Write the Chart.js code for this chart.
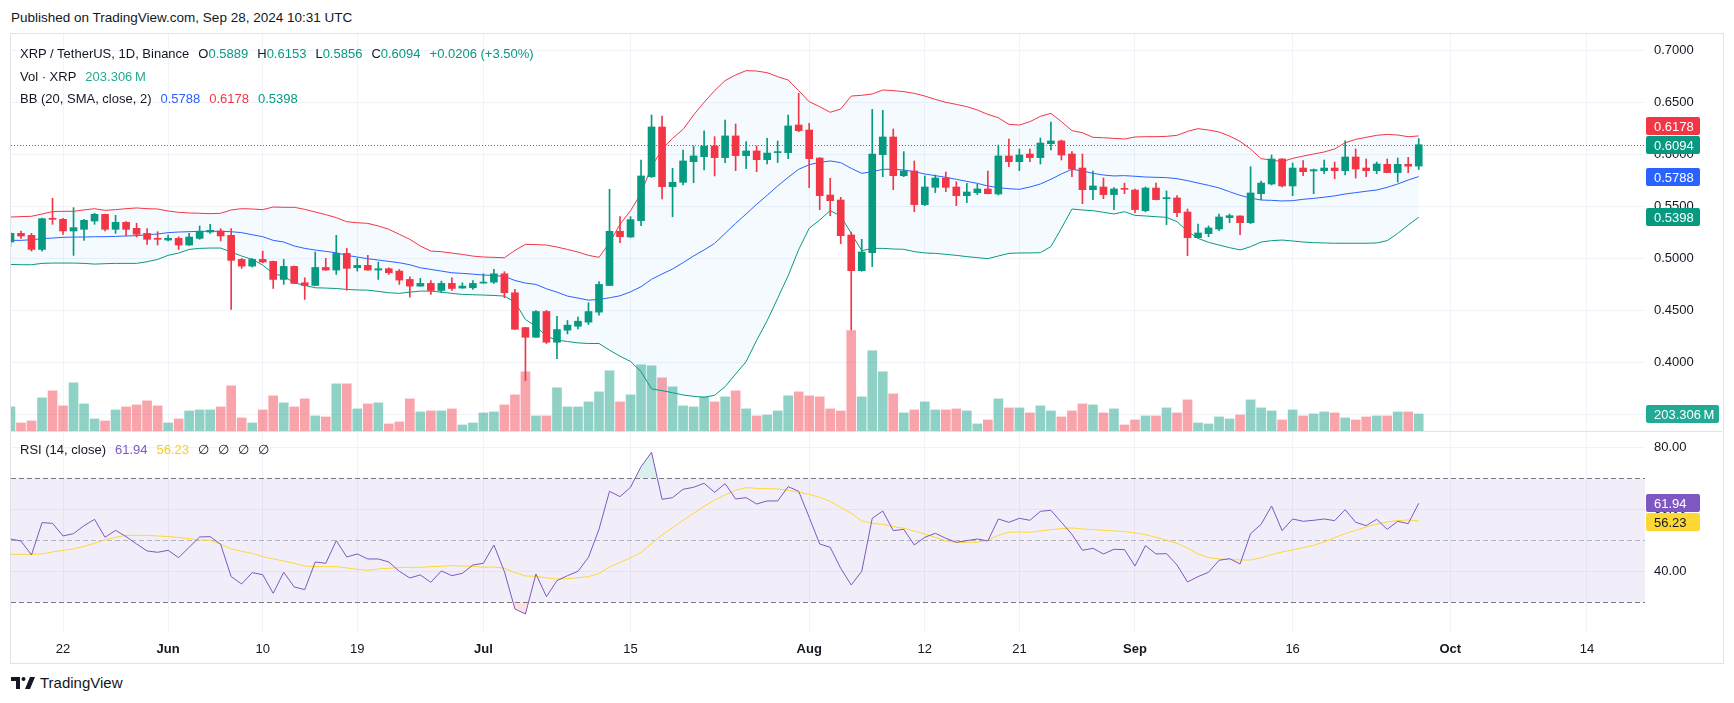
<!DOCTYPE html>
<html lang="en">
<head>
<meta charset="utf-8" />
<meta name="viewport" content="width=device-width,initial-scale=1"/>
<title>XRP / TetherUS, 1D, Binance</title>
<style>
html, body { margin: 0; padding: 0; background: #fff; }
body { position: relative; width: 1734px; height: 703px; overflow: hidden;
  font-family: 'Liberation Sans', Arial, sans-serif; color: #131722; }
#published { position: absolute; left: 11px; top: 10px; font-size: 13.5px; line-height: 16px; }
#frame { position: absolute; left: 10px; top: 33px; width: 1712px; height: 629px; border: 1px solid #e0e3eb; }
#chartBox { position: absolute; left: 11px; top: 34px; width: 1711px; height: 628px; }
.legend { position: absolute; left: 20px; font-size: 13px; line-height: 16px; white-space: nowrap; }
.legend .gap { margin-left: 9px; }
#footer { position: absolute; left: 11px; top: 674px; font-size: 15px; line-height: 18px; display: flex; align-items: center; }
#footer svg { margin-right: 5px; }
</style>
</head>
<body>
  <div id="published">Published on TradingView.com, Sep 28, 2024 10:31 UTC</div>
  <div id="frame"></div>
  <div id="chartBox"><canvas id="myChart" width="1711" height="628"></canvas></div>

  <div class="legend" style="top:46px">XRP / TetherUS, 1D, Binance<span class="gap">O<span class="val" id="lgO"></span></span><span class="gap">H<span class="val" id="lgH"></span></span><span class="gap">L<span class="val" id="lgL"></span></span><span class="gap">C<span class="val" id="lgC"></span></span><span class="gap val" id="lgChg"></span></div>
  <div class="legend" style="top:69px">Vol · XRP<span class="gap" id="lgVol" style="color:#22ab94"></span></div>
  <div class="legend" style="top:91px">BB (20, SMA, close, 2)<span class="gap" id="lgBasis" style="color:#2962ff"></span><span class="gap" id="lgUpper" style="color:#f23645"></span><span class="gap" id="lgLower" style="color:#089981"></span></div>
  <div class="legend" style="top:442px">RSI (14, close)<span class="gap" id="lgRsi" style="color:#7e57c2"></span><span class="gap" id="lgRsiMa" style="color:#f5cf1d"></span><span class="gap">∅</span><span class="gap">∅</span><span class="gap">∅</span><span class="gap">∅</span></div>

  <div id="footer">
    <svg width="24" height="14" viewBox="0 0 24 14"><rect x="0" y="1" width="9" height="4" fill="#131722"/><rect x="5" y="1" width="4" height="12" fill="#131722"/><circle cx="12.5" cy="3" r="2" fill="#131722"/><polygon points="14,13 19,1 24,1 19,13" fill="#131722"/></svg>
    <span>TradingView</span>
  </div>

  <script src="https://cdn.jsdelivr.net/npm/chart.js"></script>
  <script>
// daily candles, XRP/USDT (Binance)
const dates = [
  '2024-05-17','2024-05-18','2024-05-19','2024-05-20','2024-05-21','2024-05-22','2024-05-23','2024-05-24','2024-05-25','2024-05-26','2024-05-27','2024-05-28','2024-05-29','2024-05-30','2024-05-31',
  '2024-06-01','2024-06-02','2024-06-03','2024-06-04','2024-06-05','2024-06-06','2024-06-07','2024-06-08','2024-06-09','2024-06-10','2024-06-11','2024-06-12','2024-06-13','2024-06-14','2024-06-15',
  '2024-06-16','2024-06-17','2024-06-18','2024-06-19','2024-06-20','2024-06-21','2024-06-22','2024-06-23','2024-06-24','2024-06-25','2024-06-26','2024-06-27','2024-06-28','2024-06-29','2024-06-30',
  '2024-07-01','2024-07-02','2024-07-03','2024-07-04','2024-07-05','2024-07-06','2024-07-07','2024-07-08','2024-07-09','2024-07-10','2024-07-11','2024-07-12','2024-07-13','2024-07-14','2024-07-15',
  '2024-07-16','2024-07-17','2024-07-18','2024-07-19','2024-07-20','2024-07-21','2024-07-22','2024-07-23','2024-07-24','2024-07-25','2024-07-26','2024-07-27','2024-07-28','2024-07-29','2024-07-30','2024-07-31',
  '2024-08-01','2024-08-02','2024-08-03','2024-08-04','2024-08-05','2024-08-06','2024-08-07','2024-08-08','2024-08-09','2024-08-10','2024-08-11','2024-08-12','2024-08-13','2024-08-14','2024-08-15',
  '2024-08-16','2024-08-17','2024-08-18','2024-08-19','2024-08-20','2024-08-21','2024-08-22','2024-08-23','2024-08-24','2024-08-25','2024-08-26','2024-08-27','2024-08-28','2024-08-29','2024-08-30','2024-08-31',
  '2024-09-01','2024-09-02','2024-09-03','2024-09-04','2024-09-05','2024-09-06','2024-09-07','2024-09-08','2024-09-09','2024-09-10','2024-09-11','2024-09-12','2024-09-13','2024-09-14','2024-09-15',
  '2024-09-16','2024-09-17','2024-09-18','2024-09-19','2024-09-20','2024-09-21','2024-09-22','2024-09-23','2024-09-24','2024-09-25','2024-09-26','2024-09-27','2024-09-28'
];
const opens = [
  .5160,.5243,.5224,.5089,.5388,.5378,.5266,.5282,.5362,.5426,.5282,.5349,.5291,.5243,.5195,
  .5179,.5195,.5131,.5195,.5256,.5266,.5224,.4993,.4929,.4993,.4974,.4801,.4926,.4769,.4743,.4916,.4891,.5051,.4913,.4936,.4891,.4904,.4881,.4801,.4737,.4763,.4695,.4763,.4718,.4721,
  .4766,.4775,.4855,.4673,.4339,.4246,.4493,.4198,.4314,.4352,.4391,.4487,.4743,.5263,.5208,.5365,.5787,.6264,.5691,.5733,.5931,.5979,.6082,.5970,.6178,.5989,.6034,.5950,.6018,.6018,.6283,
  .6235,.5966,.5611,.5563,.5227,.4885,.5058,.5998,.6168,.5797,.5842,.5519,.5685,.5774,.5688,.5605,.5634,.5669,.5621,.5986,.5931,.6005,.5970,.6104,.6130,.6005,.5870,.5662,.5688,.5615,.5672,
  .5659,.5461,.5678,.5576,.5583,.5448,.5202,.5240,.5285,.5394,.5410,.5346,.5624,.5717,.5957,.5698,.5870,.5842,.5845,.5870,.5845,.5976,.5870,.5845,.5906,.5826,.5906,.5889
];
const highs = [
  .5255,.5266,.5243,.5390,.5580,.5388,.5490,.5378,.5436,.5428,.5416,.5355,.5340,.5288,.5259,
  .5227,.5211,.5243,.5314,.5330,.5288,.5288,.5003,.5003,.5073,.4977,.4993,.4930,.4817,.5064,.5003,.5224,.5099,.5003,.5032,.4968,.4913,.4897,.4827,.4811,.4791,.4785,.4817,.4769,.4791,
  .4855,.4897,.4875,.4705,.4342,.4503,.4503,.4448,.4407,.4439,.4577,.4781,.5666,.5404,.5404,.5947,.6379,.6369,.5867,.6043,.6082,.6226,.6171,.6331,.6293,.6123,.6082,.6155,.6130,.6379,.6587,
  .6299,.5970,.5771,.5589,.5256,.5186,.6433,.6424,.6245,.6027,.5938,.5794,.5803,.5832,.5739,.5723,.5714,.5842,.6091,.6149,.6053,.6053,.6158,.6312,.6139,.6027,.6005,.5842,.5774,.5682,.5726,
  .5669,.5688,.5726,.5650,.5605,.5477,.5333,.5314,.5429,.5429,.5412,.5883,.5746,.5995,.5960,.5918,.5941,.5861,.5947,.5928,.6130,.6053,.5957,.5928,.5957,.5966,.5973,.6153
];
const lows = [
  .5120,.5195,.5073,.5073,.5330,.5234,.5032,.5176,.5330,.5266,.5243,.5218,.5208,.5138,.5131,
  .5170,.5089,.5128,.5186,.5243,.5170,.4513,.4907,.4920,.4961,.4714,.4753,.4760,.4609,.4740,.4888,.4849,.4698,.4881,.4888,.4801,.4849,.4753,.4631,.4735,.4657,.4673,.4695,.4716,.4705,
  .4764,.4763,.4625,.4320,.3830,.4244,.4186,.4041,.4278,.4327,.4368,.4458,.4741,.5154,.5205,.5317,.5780,.5573,.5403,.5707,.5730,.5851,.5794,.5922,.5845,.5864,.5835,.5909,.5922,.5960,.6219,
  .5682,.5471,.5413,.5144,.4316,.4880,.4924,.5787,.5662,.5787,.5451,.5509,.5634,.5643,.5509,.5538,.5615,.5621,.5611,.5883,.5845,.5931,.5909,.6043,.5947,.5787,.5528,.5567,.5576,.5471,.5624,
  .5442,.5451,.5565,.5327,.5403,.5029,.5200,.5211,.5269,.5346,.5231,.5336,.5567,.5707,.5688,.5605,.5797,.5624,.5816,.5768,.5803,.5774,.5787,.5816,.5826,.5736,.5826,.5856
];
const closes = [
  .5243,.5218,.5089,.5384,.5378,.5266,.5298,.5368,.5426,.5282,.5349,.5282,.5234,.5186,.5186,
  .5195,.5131,.5208,.5263,.5272,.5218,.4984,.4929,.4993,.4968,.4801,.4926,.4763,.4743,.4916,.4891,.5051,.4907,.4936,.4891,.4904,.4865,.4795,.4737,.4763,.4695,.4763,.4714,.4737,.4763,
  .4775,.4855,.4673,.4323,.4246,.4493,.4198,.4320,.4362,.4400,.4493,.4753,.5263,.5211,.5375,.5794,.6264,.5691,.5733,.5938,.5986,.6082,.5970,.6178,.5989,.6034,.5950,.6014,.6027,.6274,.6229,
  .5960,.5605,.5557,.5221,.4885,.5064,.6005,.6168,.5797,.5842,.5519,.5688,.5774,.5685,.5605,.5640,.5669,.5624,.5986,.5931,.5995,.5970,.6110,.6130,.5995,.5861,.5662,.5698,.5615,.5669,.5666,
  .5471,.5678,.5567,.5586,.5442,.5202,.5247,.5295,.5400,.5413,.5346,.5631,.5726,.5957,.5698,.5870,.5835,.5854,.5870,.5845,.5976,.5861,.5845,.5909,.5826,.5906,.5888,.6094
];
// volume, millions of XRP
const volumes = [
  288,96,120,396,480,300,576,324,144,120,252,288,312,360,300,
  96,144,240,252,252,288,540,156,96,252,420,336,288,384,180,168,564,564,264,324,336,84,108,384,228,240,240,264,72,96,
  216,228,312,432,708,180,180,516,288,288,348,468,720,348,432,792,780,636,528,300,288,408,348,408,480,264,180,192,240,420,468,
  420,408,264,240,1200,408,960,708,444,216,252,348,252,252,264,240,84,132,384,276,276,216,300,240,168,240,324,312,216,264,72,
  132,180,180,276,216,372,96,84,168,144,192,372,276,240,132,252,180,204,228,216,156,132,168,180,180,228,228,203.306
];
// Bollinger Bands (20, SMA, close, 2)
const bbUpper = [
  .5400,.5404,.5407,.5429,.5452,.5455,.5455,.5468,.5480,.5464,.5471,.5480,.5487,.5480,.5477,
  .5458,.5445,.5439,.5436,.5432,.5436,.5468,.5480,.5477,.5471,.5496,.5493,.5493,.5474,.5448,.5423,.5394,.5355,.5345,.5339,.5314,.5282,.5234,.5186,.5122,.5073,.5067,.5054,.5041,.5025,
  .5016,.5013,.5009,.5080,.5138,.5135,.5131,.5112,.5089,.5064,.5032,.5013,.5154,.5330,.5460,.5627,.5883,.6050,.6155,.6241,.6379,.6501,.6613,.6709,.6763,.6805,.6801,.6785,.6747,.6715,.6613,
  .6507,.6459,.6405,.6437,.6561,.6568,.6581,.6619,.6613,.6603,.6587,.6561,.6529,.6501,.6481,.6459,.6427,.6385,.6353,.6289,.6283,.6315,.6366,.6395,.6315,.6229,.6209,.6165,.6161,.6155,.6149,
  .6168,.6171,.6171,.6174,.6184,.6222,.6248,.6235,.6216,.6177,.6126,.6053,.5960,.5947,.5931,.5963,.5985,.6005,.6024,.6053,.6113,.6145,.6165,.6184,.6193,.6187,.6171,.6178
];
const bbBasis = [
  .5176,.5176,.5182,.5192,.5198,.5205,.5208,.5208,.5211,.5211,.5214,.5218,.5221,.5230,.5237,
  .5250,.5256,.5259,.5263,.5263,.5263,.5259,.5250,.5230,.5211,.5176,.5160,.5122,.5099,.5083,.5070,.5057,.5032,.5016,.5000,.4987,.4974,.4961,.4942,.4913,.4897,.4881,.4865,.4859,.4852,
  .4843,.4839,.4830,.4791,.4766,.4753,.4711,.4679,.4641,.4622,.4602,.4609,.4625,.4644,.4682,.4731,.4802,.4853,.4901,.4962,.5026,.5084,.5147,.5243,.5339,.5429,.5522,.5608,.5698,.5781,.5858,
  .5902,.5925,.5938,.5922,.5867,.5819,.5835,.5858,.5858,.5851,.5835,.5813,.5797,.5781,.5762,.5742,.5723,.5698,.5682,.5672,.5666,.5688,.5717,.5762,.5813,.5858,.5842,.5819,.5803,.5794,.5797,
  .5791,.5784,.5781,.5778,.5768,.5749,.5726,.5704,.5679,.5643,.5608,.5582,.5563,.5560,.5554,.5557,.5570,.5579,.5590,.5603,.5621,.5634,.5647,.5659,.5685,.5717,.5755,.5788
];
const bbLower = [
  .4945,.4942,.4942,.4955,.4958,.4958,.4958,.4955,.4948,.4952,.4955,.4955,.4955,.4971,.4993,
  .5032,.5054,.5089,.5099,.5102,.5102,.5064,.5025,.4993,.4939,.4855,.4833,.4769,.4743,.4721,.4718,.4714,.4705,.4700,.4698,.4686,.4673,.4667,.4679,.4689,.4689,.4679,.4667,.4657,.4654,
  .4651,.4647,.4641,.4583,.4416,.4352,.4256,.4218,.4205,.4192,.4186,.4186,.4122,.4064,.4014,.3916,.3750,.3734,.3714,.3692,.3679,.3670,.3689,.3772,.3893,.4012,.4217,.4405,.4620,.4837,.5087,
  .5292,.5371,.5461,.5410,.5243,.5077,.5099,.5099,.5093,.5090,.5068,.5055,.5051,.5042,.5032,.5020,.5010,.5000,.5026,.5051,.5055,.5055,.5058,.5116,.5291,.5477,.5467,.5461,.5445,.5429,.5451,
  .5416,.5410,.5403,.5397,.5355,.5263,.5195,.5157,.5131,.5106,.5084,.5115,.5160,.5173,.5179,.5170,.5160,.5154,.5151,.5148,.5148,.5148,.5148,.5151,.5173,.5243,.5323,.5398
];
// RSI (14, close) and its moving average
const rsiValues = [
  50.43,49.78,45.27,55.70,55.48,51.40,52.15,54.73,56.77,50.97,53.23,51.18,48.82,46.56,46.13,
  46.77,44.41,47.74,51.08,51.18,48.71,38.28,35.91,39.57,38.92,32.90,39.68,34.95,34.09,43.01,42.58,49.89,44.62,45.59,43.98,43.98,43.01,40.00,37.85,38.82,36.45,40.11,38.60,39.35,42.04,
  42.58,48.49,39.89,27.85,26.24,39.14,31.83,36.99,38.60,40.00,44.52,53.55,65.81,64.09,67.10,73.76,78.39,63.23,63.76,66.45,67.10,68.39,65.48,68.28,63.33,63.76,61.72,62.69,62.69,67.31,65.81,
  57.42,48.82,47.74,40.97,35.59,40.00,57.10,59.46,53.12,53.55,48.49,50.97,52.26,50.65,49.35,49.89,50.43,49.78,56.88,55.81,57.10,56.45,59.35,59.68,55.81,51.94,46.77,47.42,45.59,47.10,46.99,
  41.72,48.28,45.59,45.70,42.04,36.56,38.28,39.68,43.55,44.09,42.37,52.15,55.16,61.08,53.12,56.88,56.13,56.45,56.88,56.34,59.89,55.81,54.73,56.77,53.55,56.13,55.38,61.94
];
const rsiMa = [
  45.48,45.48,45.48,45.59,46.24,46.77,47.20,48.06,49.03,50.11,50.97,51.61,51.61,51.61,51.40,
  51.18,50.97,50.54,50.11,50.00,48.71,47.20,46.45,45.81,44.73,43.98,43.33,42.58,41.72,41.51,41.51,41.51,41.08,40.65,40.32,40.75,40.97,41.18,41.29,41.29,41.51,41.61,41.83,41.72,41.61,
  41.29,41.40,40.97,39.57,38.49,38.39,37.85,37.53,37.63,37.96,38.28,39.25,41.40,42.90,44.30,46.13,48.92,51.72,54.09,56.45,58.71,60.97,63.01,64.62,66.13,66.99,66.77,66.67,66.56,66.13,65.48,
  64.84,63.87,62.58,60.65,58.71,56.24,55.48,55.16,54.41,53.87,53.01,52.04,50.97,49.78,49.35,49.35,49.35,50.11,51.61,52.58,52.69,52.58,53.01,53.44,53.76,53.98,53.66,53.44,53.23,53.01,52.80,
  52.37,51.83,50.97,50.00,49.03,47.53,45.59,44.41,43.98,43.76,43.66,43.66,44.41,45.38,46.24,46.88,47.63,48.39,49.46,50.86,52.15,53.23,54.30,55.16,55.91,56.34,56.56,56.23
];
// axes
const timeTickDates = ['2024-05-22','2024-06-01','2024-06-10','2024-06-19','2024-07-01','2024-07-15','2024-08-01','2024-08-12','2024-08-21','2024-09-01','2024-09-16','2024-10-01','2024-10-14'];
const timeTickLabels = ['22','Jun','10','19','Jul','15','Aug','12','21','Sep','16','Oct','14'];
const monthLabels = ['Jun','Jul','Aug','Sep','Oct'];
const priceTicks = [0.35, 0.40, 0.45, 0.50, 0.55, 0.60, 0.65, 0.70];
const rsiTicks = [40, 60, 80];
const rsiLevels = [70, 50, 30];

const UP = '#089981', DOWN = '#f23645';
const FONT = "'Liberation Sans', Arial, sans-serif";
const GRID = '#f0f3fa';
const TEXT = '#131722';

// x axis counts days from Jun 1
const dayZero = Date.parse('2024-06-01');
const dayOf = s => (Date.parse(s) - dayZero) / 864e5;
const xs = dates.map(dayOf);
const isUp = i => closes[i] >= opens[i];
const pts = arr => arr.map((v, i) => ({x: xs[i], y: v}));
const last = arr => arr[arr.length - 1];

// legend texts
(function fillLegend() {
  const n = closes.length;
  const chg = closes[n - 1] - closes[n - 2];
  const pct = chg / closes[n - 2] * 100;
  document.getElementById('lgO').textContent = last(opens).toFixed(4);
  document.getElementById('lgH').textContent = last(highs).toFixed(4);
  document.getElementById('lgL').textContent = last(lows).toFixed(4);
  document.getElementById('lgC').textContent = last(closes).toFixed(4);
  document.getElementById('lgChg').textContent = (chg >= 0 ? '+' : '') + chg.toFixed(4) + ' (' + (pct >= 0 ? '+' : '') + pct.toFixed(2) + '%)';
  document.getElementById('lgVol').textContent = last(volumes).toFixed(3) + '\u2009M';
  document.getElementById('lgBasis').textContent = last(bbBasis).toFixed(4);
  document.getElementById('lgUpper').textContent = last(bbUpper).toFixed(4);
  document.getElementById('lgLower').textContent = last(bbLower).toFixed(4);
  document.getElementById('lgRsi').textContent = last(rsiValues).toFixed(2);
  document.getElementById('lgRsiMa').textContent = last(rsiMa).toFixed(2);
  document.querySelectorAll('.val').forEach(e => e.style.color = UP);
})();

function drawTag(ctx, x, y, w, text, bg, fg) {
  y = Math.round(y);
  ctx.fillStyle = bg;
  ctx.beginPath();
  ctx.roundRect(x, y - 9, w, 18, 2);
  ctx.fill();
  ctx.fillStyle = fg;
  ctx.font = '13px ' + FONT;
  ctx.textAlign = 'left';
  ctx.textBaseline = 'middle';
  ctx.fillText(text, x + 8, y + 1);
}
// keep tags from overlapping the fixed one (last price / last rsi)
function spreadTags(tags, fixed) {
  const f = tags[fixed];
  tags.forEach((t, i) => {
    if (i === fixed) return;
    const d = t.y - f.y;
    if (Math.abs(d) < 19) t.y = f.y + (d < 0 ? -19 : 19);
  });
}
// no auto padding around the plot: labels stay inside their own columns
function noPad(s) {
  s.paddingTop = 0; s.paddingBottom = 0; s.paddingLeft = 0; s.paddingRight = 0;
}

const overlays = {
  id: 'overlays',
  beforeDatasetsDraw(chart) {
    const {ctx, chartArea: a, scales} = chart;
    const r = scales.yRsi, p = scales.y;
    ctx.save();
    const y70 = r.getPixelForValue(rsiLevels[0]), y30 = r.getPixelForValue(rsiLevels[2]);
    ctx.fillStyle = 'rgba(126,87,194,0.1)';
    ctx.fillRect(a.left, y70, a.width, y30 - y70);
    ctx.lineWidth = 1;
    ctx.setLineDash([5, 3]);
    rsiLevels.forEach(v => {
      const y = Math.round(r.getPixelForValue(v)) + 0.5;
      ctx.strokeStyle = v === 50 ? 'rgba(120,123,134,0.5)' : '#787b86';
      ctx.beginPath(); ctx.moveTo(a.left, y); ctx.lineTo(a.right, y); ctx.stroke();
    });
    // last price line
    ctx.setLineDash([1, 2]);
    ctx.strokeStyle = UP;
    const yl = Math.round(p.getPixelForValue(last(closes))) + 0.5;
    ctx.beginPath(); ctx.moveTo(a.left, yl); ctx.lineTo(a.right, yl); ctx.stroke();
    ctx.restore();
  },
  afterDatasetsDraw(chart) {
    const {ctx, scales} = chart;
    ctx.save();
    ctx.strokeStyle = '#e0e3eb';
    ctx.lineWidth = 1;
    const ys = Math.round(scales.y.bottom) + 0.5;
    ctx.beginPath(); ctx.moveTo(0, ys); ctx.lineTo(chart.width, ys); ctx.stroke();
    ctx.restore();
  },
  afterDraw(chart) {
    const {ctx, chartArea: a, scales} = chart;
    const x = a.right + 1;
    ctx.save();
    const priceTags = [
      {v: last(bbUpper), bg: DOWN},
      {v: last(closes), bg: UP},
      {v: last(bbBasis), bg: '#2962ff'},
      {v: last(bbLower), bg: UP}
    ].map(t => ({...t, y: scales.y.getPixelForValue(t.v)}));
    spreadTags(priceTags, 1);
    priceTags.forEach(t => drawTag(ctx, x, t.y, 54, t.v.toFixed(4), t.bg, '#fff'));
    drawTag(ctx, x, scales.yVol.getPixelForValue(last(volumes)), 73, last(volumes).toFixed(3) + '\u2009M', '#22ab94', '#fff');
    const rsiTags = [
      {v: last(rsiValues), bg: '#7e57c2', fg: '#fff'},
      {v: last(rsiMa), bg: '#fdd835', fg: TEXT}
    ].map(t => ({...t, y: scales.yRsi.getPixelForValue(t.v)}));
    spreadTags(rsiTags, 0);
    rsiTags.forEach(t => drawTag(ctx, x, t.y, 54, t.v.toFixed(2), t.bg, t.fg));
    ctx.restore();
  }
};

const candleColor = ctx => isUp(ctx.dataIndex) ? UP : DOWN;
const datasets = [
  { type: 'bar', label: 'Volume', yAxisID: 'yVol', order: 30, grouped: false, barThickness: 9,
    data: volumes.map((v, i) => ({x: xs[i], y: v})),
    backgroundColor: ctx => isUp(ctx.dataIndex) ? 'rgba(8,153,129,0.45)' : 'rgba(242,54,69,0.45)' },
  { type: 'line', label: 'BB upper', yAxisID: 'y', order: 20, data: pts(bbUpper),
    borderColor: DOWN, borderWidth: 1, pointRadius: 0, tension: 0,
    fill: '+2', backgroundColor: 'rgba(33,150,243,0.05)' },
  { type: 'line', label: 'BB basis', yAxisID: 'y', order: 19, data: pts(bbBasis),
    borderColor: '#2962ff', borderWidth: 1, pointRadius: 0, tension: 0, fill: false },
  { type: 'line', label: 'BB lower', yAxisID: 'y', order: 19, data: pts(bbLower),
    borderColor: UP, borderWidth: 1, pointRadius: 0, tension: 0, fill: false },
  { type: 'bar', label: 'Wick', yAxisID: 'y', order: 2, grouped: false, barThickness: 1,
    data: lows.map((l, i) => ({x: xs[i], y: [l, highs[i]]})), backgroundColor: candleColor },
  { type: 'bar', label: 'Body', yAxisID: 'y', order: 1, grouped: false, barThickness: 7, minBarLength: 1,
    data: opens.map((o, i) => ({x: xs[i], y: [o, closes[i]]})), backgroundColor: candleColor },
  { type: 'line', label: 'RSI over', yAxisID: 'yRsi', order: 8, data: pts(rsiValues),
    borderColor: 'rgba(0,0,0,0)', borderWidth: 0, pointRadius: 0,
    fill: { target: { value: 70 }, above: 'rgba(8,153,129,0.15)', below: 'rgba(0,0,0,0)' } },
  { type: 'line', label: 'RSI under', yAxisID: 'yRsi', order: 8, data: pts(rsiValues),
    borderColor: 'rgba(0,0,0,0)', borderWidth: 0, pointRadius: 0,
    fill: { target: { value: 30 }, above: 'rgba(0,0,0,0)', below: 'rgba(242,54,69,0.15)' } },
  { type: 'line', label: 'RSI MA', yAxisID: 'yRsi', order: 6, data: pts(rsiMa),
    borderColor: '#fdd835', borderWidth: 1, pointRadius: 0, tension: 0, fill: false },
  { type: 'line', label: 'RSI', yAxisID: 'yRsi', order: 5, data: pts(rsiValues),
    borderColor: '#7e57c2', borderWidth: 1, pointRadius: 0, tension: 0, fill: false }
];

const tickFont = {size: 13, family: FONT};
new Chart(document.getElementById('myChart'), {
  type: 'bar',
  data: { datasets: datasets },
  options: {
    responsive: false,
    animation: false,
    events: [],
    devicePixelRatio: 1,
    layout: { padding: 0, autoPadding: false },
    plugins: { legend: { display: false }, tooltip: { enabled: false } },
    scales: {
      x: {
        type: 'linear', position: 'bottom', offset: false,
        min: -14.95, max: 140.53,   // visible window, in days from Jun 1
        afterBuildTicks: s => { s.ticks = timeTickDates.map(d => ({value: dayOf(d)})); },
        afterFit: s => { s.height = 30; noPad(s); },
        grid: { color: GRID, drawTicks: false, offset: false },
        border: { display: false },
        ticks: {
          autoSkip: false, maxRotation: 0, padding: 10, color: TEXT,
          callback: (v, i) => timeTickLabels[i],
          font: c => ({size: 13, family: FONT, weight: monthLabels.includes(timeTickLabels[c.index]) ? 'bold' : 'normal'})
        }
      },
      y: {
        type: 'linear', position: 'right', stack: 'panes', stackWeight: 397,
        min: 0.33464, max: 0.71564,
        afterBuildTicks: s => { s.ticks = priceTicks.map(v => ({value: v})); },
        afterFit: s => { s.width = 77; noPad(s); },
        grid: { color: GRID, drawTicks: false },
        border: { display: false },
        ticks: { padding: 9, color: TEXT, font: tickFont, callback: v => v.toFixed(4) }
      },
      yRsi: {
        type: 'linear', position: 'right', stack: 'panes', stackWeight: 201,
        min: 20.42, max: 85.26,
        afterBuildTicks: s => { s.ticks = rsiTicks.map(v => ({value: v})); },
        afterFit: s => { s.width = 77; noPad(s); },
        grid: { color: GRID, drawTicks: false },
        border: { display: false },
        ticks: { padding: 9, color: TEXT, font: tickFont, callback: v => v.toFixed(2) }
      },
      yVol: {
        type: 'linear', display: false,
        afterFit: noPad,
        min: -2404, max: 4748   // zero sits on the bottom of the price pane
      }
    }
  },
  plugins: [overlays]
});
  </script>
</body>
</html>
